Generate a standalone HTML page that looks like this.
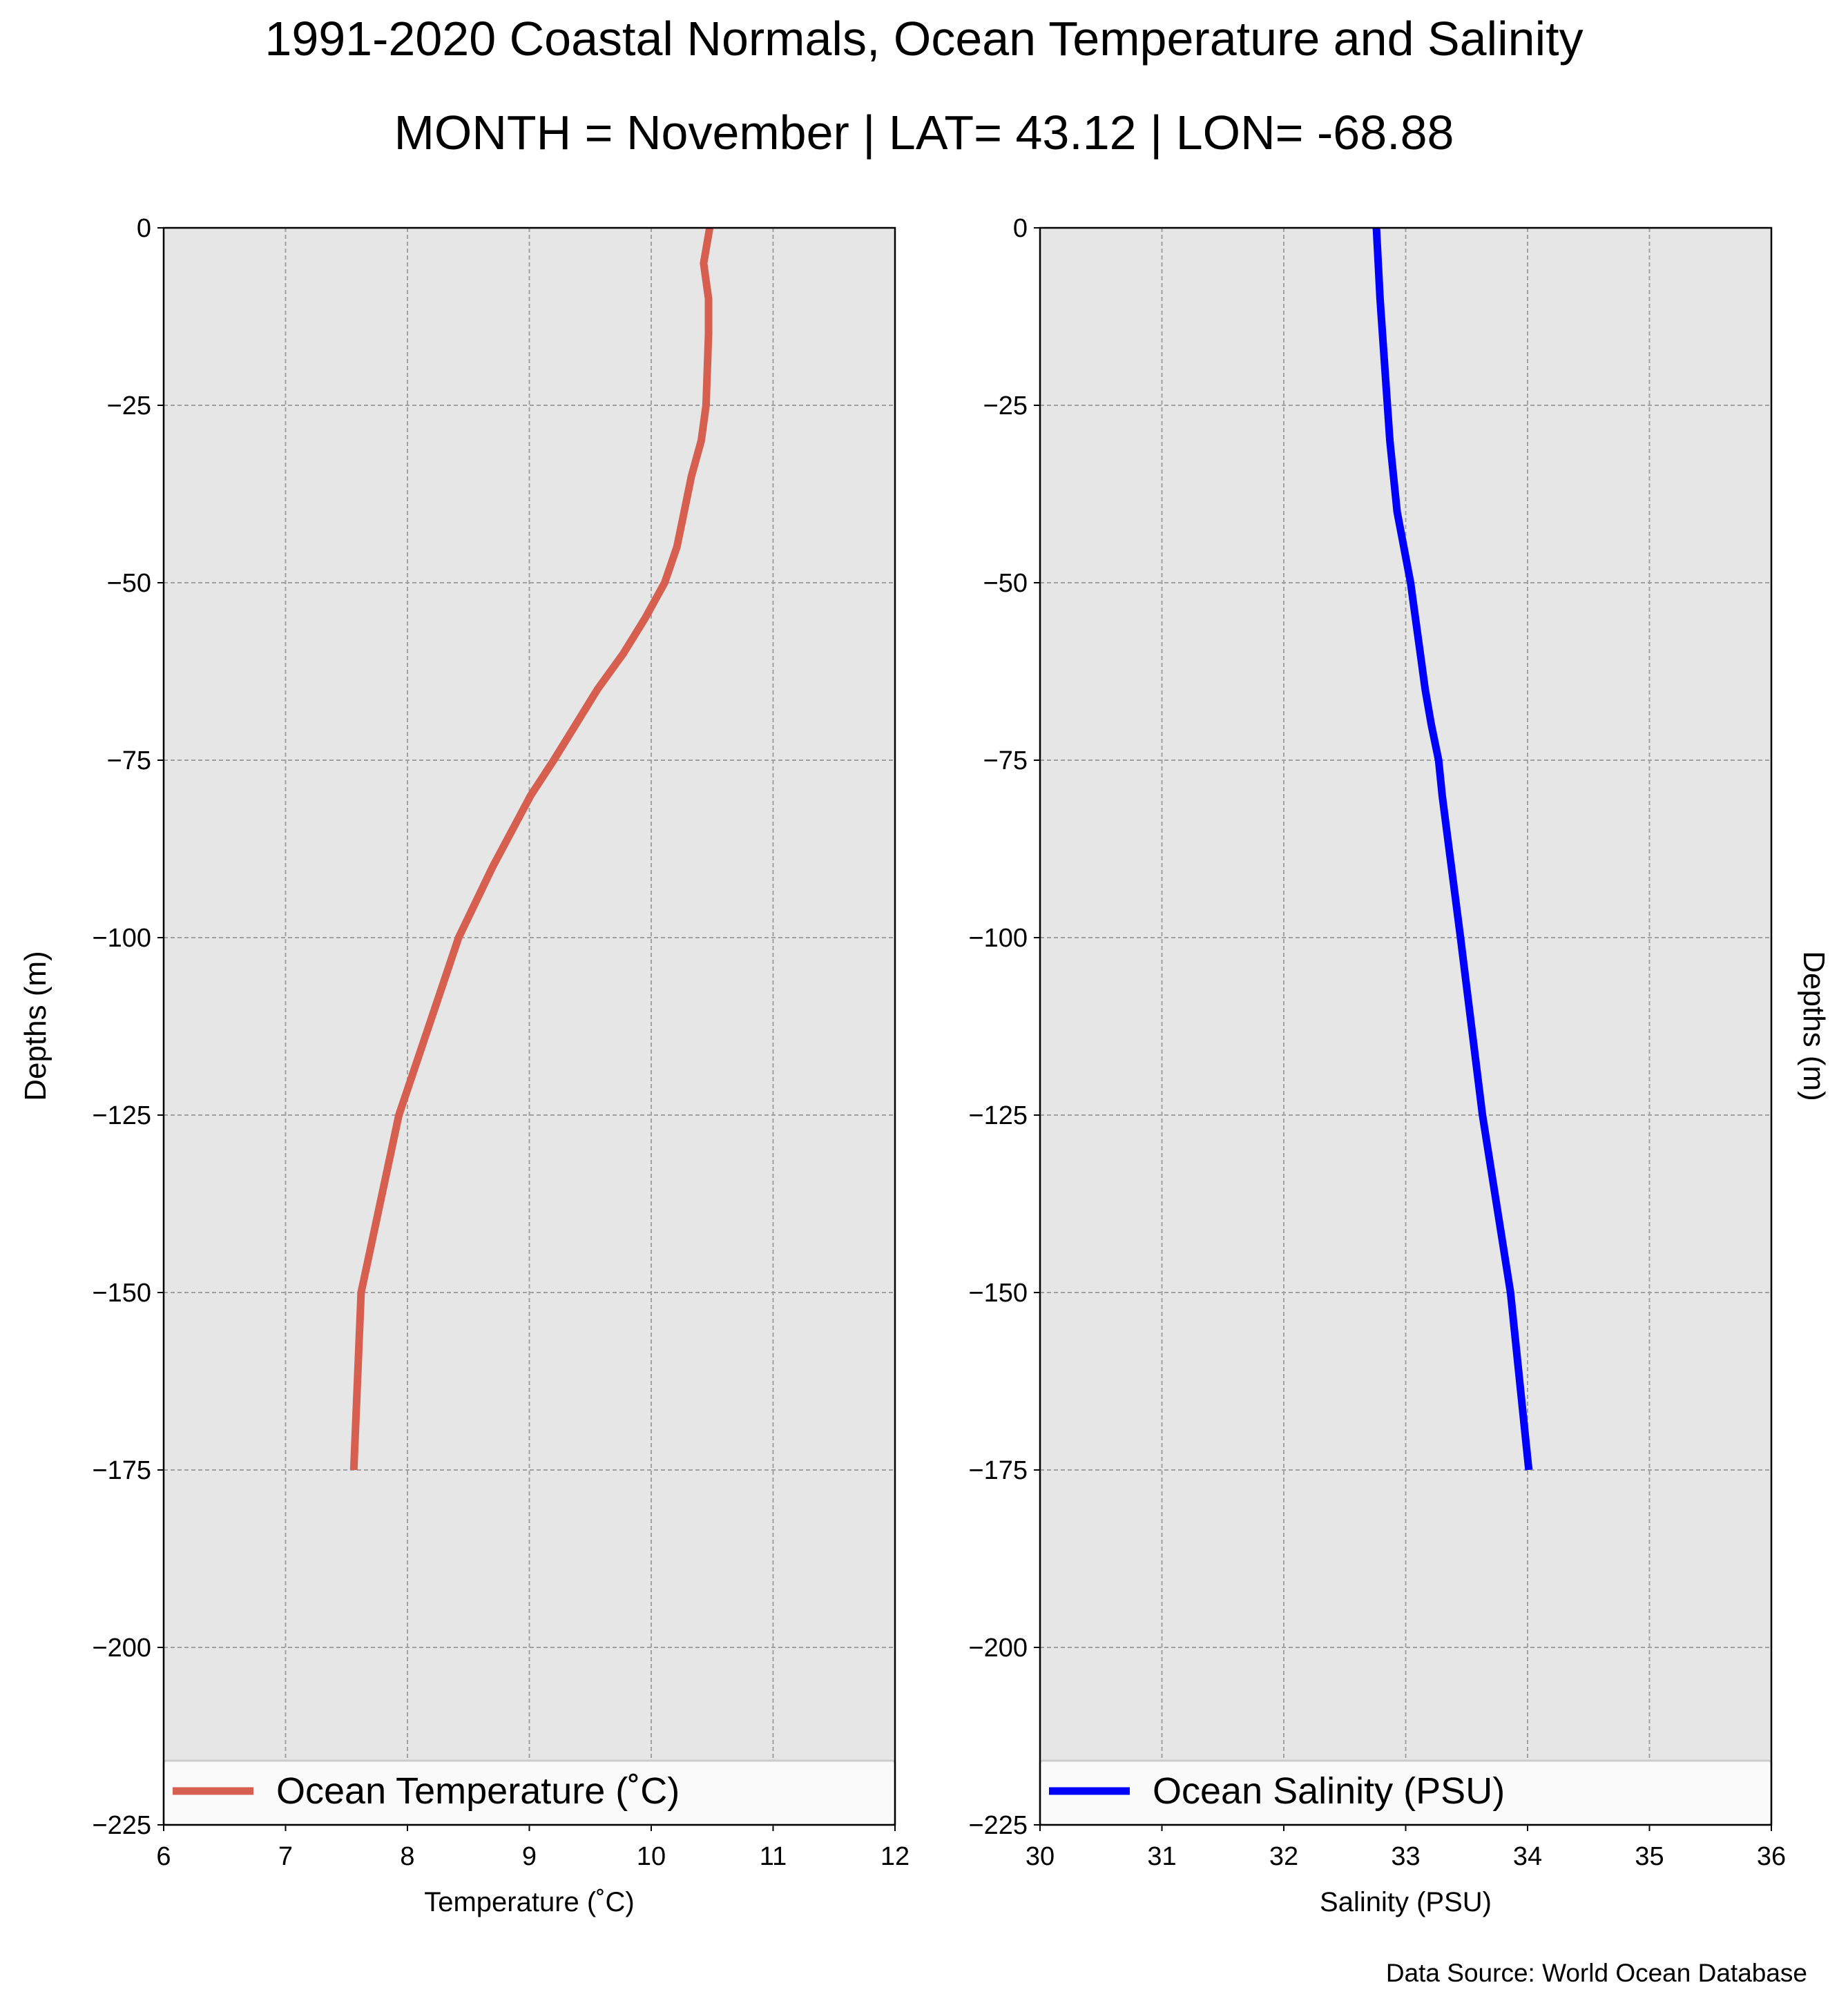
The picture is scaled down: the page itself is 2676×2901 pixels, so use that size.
<!DOCTYPE html>
<html><head><meta charset="utf-8"><style>
body{margin:0;background:#fff}
svg{display:block;font-family:"Liberation Sans","DejaVu Sans",sans-serif}
</style></head><body>
<svg id="chart" width="2676" height="2901" viewBox="0 0 2676 2901" xmlns="http://www.w3.org/2000/svg">
<text x="1338" y="80" font-size="70" text-anchor="middle">1991-2020 Coastal Normals, Ocean Temperature and Salinity</text>
<text x="1338" y="216" font-size="70" text-anchor="middle">MONTH = November | LAT= 43.12 | LON= -68.88</text>
<g id="p1"></g>
<g id="p2"></g>
<text x="2617" y="2870" font-size="37" text-anchor="end">Data Source: World Ocean Database</text>
</svg>
<script>
const depths = [0,-5,-10,-15,-20,-25,-30,-35,-40,-45,-50,-55,-60,-65,-70,-75,-80,-90,-100,-125,-150,-175];
const temps = [10.48,10.43,10.47,10.47,10.46,10.45,10.41,10.33,10.27,10.21,10.11,9.95,9.77,9.56,9.38,9.20,9.01,8.70,8.42,7.93,7.62,7.56];
const salDepths = [0,-10,-20,-30,-40,-50,-60,-65,-70,-75,-80,-100,-125,-150,-175];
const sal = [32.76,32.79,32.83,32.87,32.93,33.04,33.12,33.16,33.21,33.27,33.30,33.45,33.63,33.86,34.01];
const yTicks = [0,-25,-50,-75,-100,-125,-150,-175,-200,-225];
const tTicks = [6,7,8,9,10,11,12];
const sTicks = [30,31,32,33,34,35,36];

const NS="http://www.w3.org/2000/svg";
const yTop=330,yBot=2643;
function mk(tag,attrs,parent){const e=document.createElementNS(NS,tag);for(const k in attrs)e.setAttribute(k,attrs[k]);parent.appendChild(e);return e;}
function panel(g,x0,x1,xmin,xmax,xt,ys,xs,color,xlabel,legend,ylabelSide){
  const X=v=>x0+(v-xmin)/(xmax-xmin)*(x1-x0);
  const Y=v=>yTop+(0-v)/225*(yBot-yTop);
  const bg=mk('rect',{x:x0,y:yTop,width:x1-x0,height:yBot-yTop,fill:'#e6e6e6'},g);
  
  
  yTicks.forEach(v=>{
    const l=mk('line',{x1:x0,x2:x1,y1:Y(v),y2:Y(v),stroke:'#a0a0a0','stroke-width':2,'stroke-dasharray':'6,4'},g);
    
    
    mk('line',{x1:x0-9,x2:x0,y1:Y(v),y2:Y(v),stroke:'#000','stroke-width':2},g);
    const t=mk('text',{x:x0-18,y:Y(v)+13,'font-size':38,'text-anchor':'end'},g);
    t.textContent=(v<0?'\u2212':'')+Math.abs(v);
    
    
  });
  xt.forEach(v=>{
    const l=mk('line',{x1:X(v),x2:X(v),y1:yTop,y2:yBot,stroke:'#a0a0a0','stroke-width':2,'stroke-dasharray':'6,4'},g);
    
    
    mk('line',{x1:X(v),x2:X(v),y1:yBot,y2:yBot+9,stroke:'#000','stroke-width':2},g);
    const t=mk('text',{x:X(v),y:yBot+58,'font-size':38,'text-anchor':'middle'},g);
    t.textContent=v;
    
    
  });
  const pts=ys.map((d,i)=>X(xs[i]).toFixed(1)+','+Y(d).toFixed(1)).join(' ');
  const pl=mk('polyline',{points:pts,fill:'none',stroke:color,'stroke-width':11,'stroke-linejoin':'miter'},g);
  
  
  const lg=mk('g',{},g);
  
  
  mk('rect',{x:x0,y:2550,width:x1-x0,height:93,fill:'#fafafa',stroke:'#cccccc','stroke-width':3,rx:4},lg);
  mk('line',{x1:x0+13,x2:x0+130,y1:2594,y2:2594,stroke:color,'stroke-width':11},lg);
  const lt=mk('text',{x:x0+163,y:2612,'font-size':54},lg);
  lt.textContent=legend;
  mk('rect',{x:x0,y:yTop,width:x1-x0,height:yBot-yTop,fill:'none',stroke:'#000','stroke-width':2.5},g);
  const xl=mk('text',{x:(x0+x1)/2,y:2768,'font-size':40,'text-anchor':'middle'},g);
  xl.textContent=xlabel;
  
  
  const yl=mk('text',{'font-size':44,'text-anchor':'middle'},g);
  yl.textContent='Depths (m)';
  if(ylabelSide==='left'){yl.setAttribute('transform','translate(66,1486) rotate(-90)');}
  else{yl.setAttribute('transform','translate(2612,1486) rotate(90)');}
  
  
}
panel(document.getElementById('p1'),237,1296,6,12,tTicks,depths,temps,'#d65f4f','Temperature (\u02daC)','Ocean Temperature (\u02daC)','left');
panel(document.getElementById('p2'),1506,2565,30,36,sTicks,salDepths,sal,'#0000ff','Salinity (PSU)','Ocean Salinity (PSU)','right');
</script>
</body></html>
